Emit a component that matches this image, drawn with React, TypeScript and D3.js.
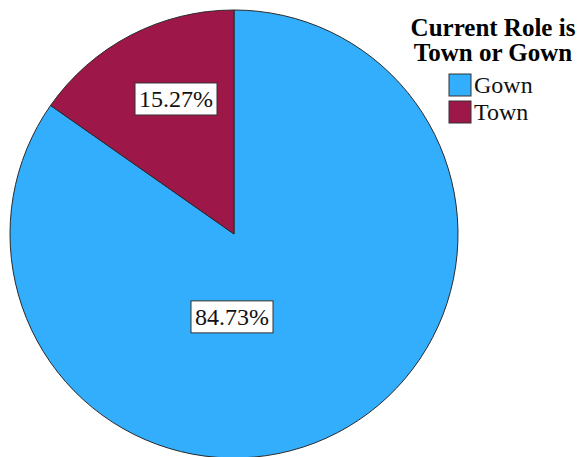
import React from "react";
import * as d3 from "d3";

const categories = ["Gown", "Town"];
const values = [84.73, 15.27];
const colors = ["#33AEFD", "#9E1749"];
const legendTitle = ["Current Role is", "Town or Gown"];

const W = 582;
const H = 457;
const cx = 234;
const cy = 234;
const R = 224;

const font = "Liberation Serif, Times New Roman, Times, serif";

export default function App() {
  const pie = d3.pie<number>().sort(null).value((d) => d)(values);
  const arc = d3.arc<d3.PieArcDatum<number>>().innerRadius(0).outerRadius(R);

  const labelPos = pie.map((p, i) => {
    if (i === 1) {
      const a = (p.startAngle + p.endAngle) / 2 + 0.074;
      const rr = R * 0.656;
      return [Math.sin(a) * rr, -Math.cos(a) * rr];
    }
    return [-2, R * 0.37];
  });

  return (
    <svg
      width={W}
      height={H}
      style={{ position: "absolute", left: 0, top: 0, background: "#fff", fontFamily: font }}
    >
      <g transform={`translate(${cx},${cy})`}>
        {pie.map((p, i) => (
          <path
            key={i}
            d={arc(p) || ""}
            fill={colors[i]}
            stroke="#2a2a2a"
            strokeWidth={1}
          />
        ))}
        {pie.map((p, i) => {
          const [x, y] = labelPos[i];
          const label = values[i].toFixed(2) + "%";
          const bw = 82;
          const bh = 32;
          return (
            <g key={"l" + i} transform={`translate(${x},${y})`}>
              <rect
                x={-bw / 2}
                y={-bh / 2}
                width={bw}
                height={bh}
                fill="#fff"
                stroke="#333"
                strokeWidth={1}
              />
              <text
                x={0}
                y={8}
                textAnchor="middle"
                style={{ fontFamily: font, fontSize: 24 }}
                fill="#111"
              >
                {label}
              </text>
            </g>
          );
        })}
      </g>
      <g>
        {legendTitle.map((t, i) => (
          <text
            key={t}
            x={493}
            y={36 + i * 25}
            textAnchor="middle"
            style={{ fontFamily: font, fontWeight: "bold", fontSize: 25 }}
            fill="#000"
          >
            {t}
          </text>
        ))}
        {categories.map((c, i) => (
          <g key={c} transform={`translate(449,${74 + i * 27})`}>
            <rect
              x={0}
              y={0}
              width={22}
              height={22}
              fill={colors[i]}
              stroke="#333"
              strokeWidth={1}
            />
            <text
              x={25}
              y={19}
              style={{ fontFamily: font, fontSize: 24 }}
              fill="#111"
            >
              {c}
            </text>
          </g>
        ))}
      </g>
    </svg>
  );
}
